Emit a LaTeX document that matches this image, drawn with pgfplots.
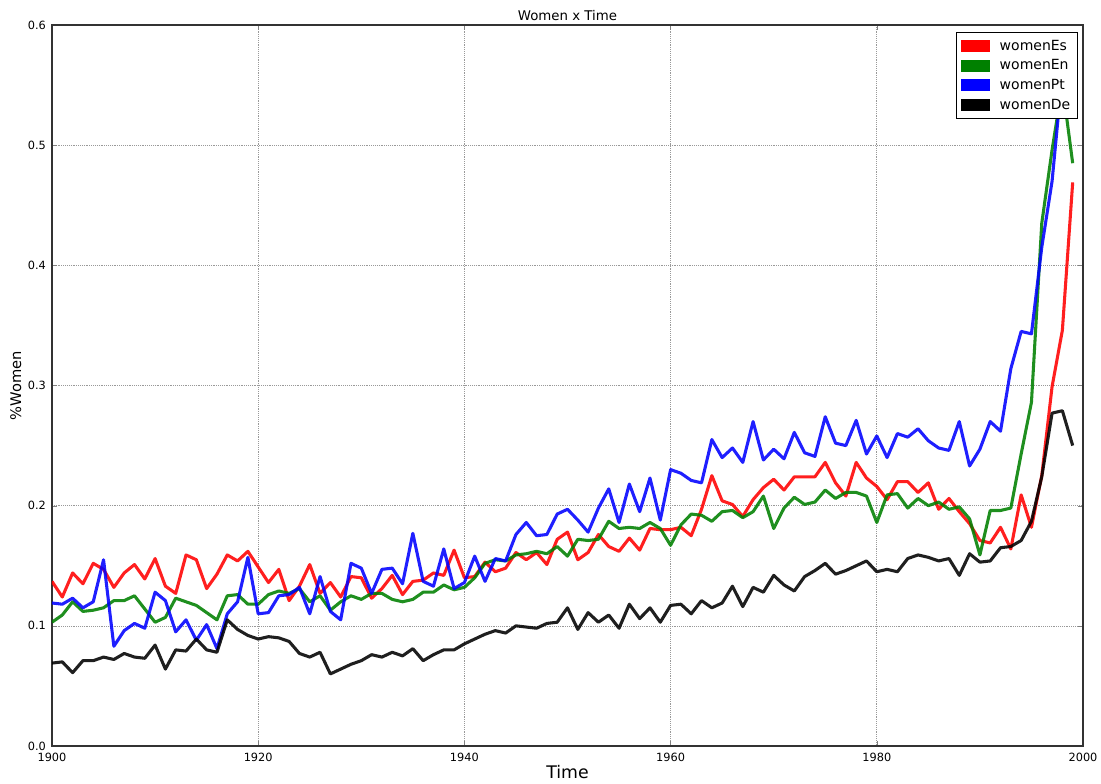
\documentclass[border=0pt]{standalone}
\usepackage{pgfplots}
\pgfplotsset{compat=1.18}
\usepackage{pgfplotstable}
\usepackage{fontspec}
\setmainfont{DejaVu Sans}
\definecolor{cEs}{RGB}{255,0,0}
\definecolor{cEn}{RGB}{0,128,0}
\definecolor{cPt}{RGB}{0,0,255}
\definecolor{cDe}{RGB}{0,0,0}

\pgfplotstableread{
year Es En Pt De
1900 0.137 0.103 0.119 0.069
1901 0.124 0.109 0.118 0.070
1902 0.144 0.120 0.123 0.061
1903 0.135 0.112 0.115 0.071
1904 0.152 0.113 0.120 0.071
1905 0.147 0.115 0.155 0.074
1906 0.132 0.121 0.083 0.072
1907 0.144 0.121 0.096 0.077
1908 0.151 0.125 0.102 0.074
1909 0.139 0.114 0.098 0.073
1910 0.156 0.103 0.128 0.084
1911 0.133 0.107 0.121 0.064
1912 0.127 0.123 0.095 0.080
1913 0.159 0.120 0.105 0.079
1914 0.155 0.117 0.088 0.089
1915 0.131 0.111 0.101 0.080
1916 0.143 0.105 0.081 0.078
1917 0.159 0.125 0.110 0.105
1918 0.154 0.126 0.120 0.097
1919 0.162 0.118 0.157 0.092
1920 0.149 0.118 0.110 0.089
1921 0.136 0.126 0.111 0.091
1922 0.147 0.129 0.125 0.090
1923 0.121 0.127 0.126 0.087
1924 0.133 0.131 0.132 0.077
1925 0.151 0.120 0.110 0.074
1926 0.127 0.125 0.141 0.078
1927 0.136 0.113 0.112 0.060
1928 0.124 0.120 0.105 0.064
1929 0.141 0.125 0.152 0.068
1930 0.140 0.122 0.148 0.071
1931 0.123 0.127 0.127 0.076
1932 0.131 0.127 0.147 0.074
1933 0.142 0.122 0.148 0.078
1934 0.126 0.120 0.135 0.075
1935 0.137 0.122 0.177 0.081
1936 0.138 0.128 0.137 0.071
1937 0.144 0.128 0.133 0.076
1938 0.142 0.134 0.164 0.080
1939 0.163 0.130 0.131 0.080
1940 0.140 0.132 0.136 0.085
1941 0.141 0.140 0.158 0.089
1942 0.153 0.152 0.137 0.093
1943 0.145 0.155 0.156 0.096
1944 0.148 0.154 0.154 0.094
1945 0.161 0.159 0.176 0.100
1946 0.155 0.160 0.186 0.099
1947 0.161 0.162 0.175 0.098
1948 0.151 0.160 0.176 0.102
1949 0.172 0.166 0.193 0.103
1950 0.178 0.158 0.197 0.115
1951 0.155 0.172 0.188 0.097
1952 0.161 0.171 0.178 0.111
1953 0.176 0.172 0.198 0.103
1954 0.166 0.187 0.214 0.109
1955 0.162 0.181 0.186 0.098
1956 0.173 0.182 0.218 0.118
1957 0.163 0.181 0.195 0.106
1958 0.181 0.186 0.223 0.115
1959 0.180 0.181 0.188 0.103
1960 0.180 0.167 0.230 0.117
1961 0.182 0.184 0.227 0.118
1962 0.175 0.193 0.221 0.110
1963 0.197 0.192 0.219 0.121
1964 0.225 0.187 0.255 0.115
1965 0.204 0.195 0.240 0.119
1966 0.201 0.196 0.248 0.133
1967 0.191 0.190 0.236 0.116
1968 0.205 0.195 0.270 0.132
1969 0.215 0.208 0.238 0.128
1970 0.222 0.181 0.247 0.142
1971 0.213 0.198 0.239 0.134
1972 0.224 0.207 0.261 0.129
1973 0.224 0.201 0.244 0.141
1974 0.224 0.203 0.241 0.146
1975 0.236 0.213 0.274 0.152
1976 0.219 0.206 0.252 0.143
1977 0.208 0.211 0.250 0.146
1978 0.236 0.211 0.271 0.150
1979 0.223 0.208 0.243 0.154
1980 0.216 0.186 0.258 0.145
1981 0.205 0.209 0.240 0.147
1982 0.220 0.210 0.260 0.145
1983 0.220 0.198 0.257 0.156
1984 0.211 0.206 0.264 0.159
1985 0.219 0.200 0.254 0.157
1986 0.197 0.203 0.248 0.154
1987 0.206 0.197 0.246 0.156
1988 0.195 0.199 0.270 0.142
1989 0.185 0.189 0.233 0.160
1990 0.171 0.159 0.247 0.153
1991 0.169 0.196 0.270 0.154
1992 0.182 0.196 0.262 0.165
1993 0.164 0.198 0.314 0.166
1994 0.209 0.243 0.345 0.171
1995 0.182 0.286 0.343 0.187
1996 0.225 0.435 0.415 0.224
1997 0.299 0.496 0.470 0.277
1998 0.346 0.550 0.560 0.279
1999 0.469 0.485 0.590 0.250
}\data

\begin{document}
\begin{tikzpicture}
\path[use as bounding box] (-39pt,-27.75pt) rectangle (786.75pt,559.5pt);
\begin{axis}[
  at={(0,0)}, anchor=south west,
  scale only axis,
  width=773.25pt, height=540.75pt,
  xmin=1900, xmax=2000, ymin=0, ymax=0.6,
  xtick={1900,1920,...,2000},
  ytick={0,0.1,...,0.6},
  tick align=inside,
  major tick length=4pt,
  xtick pos=both, ytick pos=both,
  axis line style={line width=0.8pt, black!80},
  grid=major,
  major grid style={densely dotted, line width=0.5pt, gray!80},
  /pgf/number format/assume math mode=true,
  tick label style={font=\fontsize{8.5}{10}\selectfont, black},
  x tick label style={/pgf/number format/1000 sep={}, yshift=-1.5pt},
  y tick label style={/pgf/number format/fixed, /pgf/number format/fixed zerofill, /pgf/number format/precision=1, xshift=-1pt},
  xlabel={Time},
  ylabel={\%Women},
  xlabel style={font=\fontsize{13}{15}\selectfont, yshift=4pt},
  ylabel style={font=\fontsize{11}{13}\selectfont, yshift=-2pt},
  title={Women x Time},
  title style={font=\fontsize{10}{12}\selectfont, yshift=-6pt},
  legend style={at={(0.9945,0.99)}, anchor=north east, font=\fontsize{10.5}{13}\selectfont,
    draw=black, line width=0.6pt, row sep=1.6pt, inner xsep=3pt, inner ysep=3.5pt, cells={anchor=west}},
  legend image code/.code={\fill[#1, opacity=1, draw=none] (0pt,-4.5pt) rectangle (22pt,4.5pt); \path (26pt,0pt);},
  every axis plot/.append style={line width=2.3pt, opacity=0.88, line join=round},
]
\addplot[color=cEs] table[x=year, y=Es] {\data};
\addlegendentry{womenEs}
\addplot[color=cEn] table[x=year, y=En] {\data};
\addlegendentry{womenEn}
\addplot[color=cPt] table[x=year, y=Pt] {\data};
\addlegendentry{womenPt}
\addplot[color=cDe] table[x=year, y=De] {\data};
\addlegendentry{womenDe}
\end{axis}
\end{tikzpicture}
\end{document}
